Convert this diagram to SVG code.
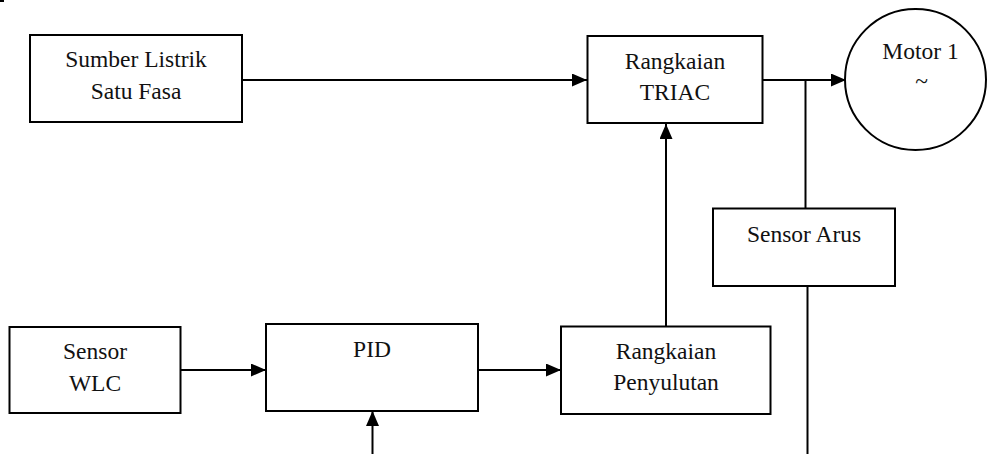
<svg xmlns="http://www.w3.org/2000/svg" width="988" height="454" viewBox="0 0 988 454">
  <defs>
    <marker id="arrow" markerWidth="15" markerHeight="13" refX="15" refY="6.5" orient="auto" markerUnits="userSpaceOnUse">
      <path d="M0,0 L15,6.5 L0,13 Z" fill="#000"/>
    </marker>
    <style>
      .box { fill: #fff; stroke: #000; stroke-width: 2; }
      .lbl { font-family: "Liberation Serif", "Times New Roman", serif; font-size: 23.5px; fill: #111; text-anchor: middle; }
      .wire { fill: none; stroke: #000; stroke-width: 2; }
      .arr { fill: none; stroke: #000; stroke-width: 2; marker-end: url(#arrow); }
    </style>
  </defs>
  <rect width="988" height="454" fill="#fff"/>
  <rect x="0" y="0" width="4" height="2" fill="#000"/>

  <g id="connectors">
    <line class="arr" x1="242" y1="80" x2="587" y2="80"/>
    <line class="arr" x1="762" y1="80" x2="846" y2="80"/>
    <line class="wire" x1="805.5" y1="80" x2="805.5" y2="208"/>
    <line class="wire" x1="807.5" y1="286" x2="807.5" y2="454"/>
    <line class="arr" x1="666" y1="326" x2="666" y2="124"/>
    <line class="arr" x1="181" y1="370" x2="266" y2="370"/>
    <line class="arr" x1="478" y1="370" x2="561" y2="370"/>
    <line class="arr" x1="372.5" y1="454" x2="372.5" y2="411"/>
  </g>

  <g id="sumber">
    <rect class="box" x="30" y="35" width="212" height="87"/>
    <text class="lbl" x="136" y="67">Sumber Listrik</text>
    <text class="lbl" x="136" y="99">Satu Fasa</text>
  </g>

  <g id="triac">
    <rect class="box" x="587.5" y="36" width="175" height="87"/>
    <text class="lbl" x="675" y="69">Rangkaian</text>
    <text class="lbl" x="675" y="100">TRIAC</text>
  </g>

  <g id="motor">
    <circle class="box" cx="915.5" cy="79.5" r="70.5"/>
    <text class="lbl" x="920.5" y="59">Motor 1</text>
    <text class="lbl" x="921.5" y="89">~</text>
  </g>

  <g id="sensor-arus">
    <rect class="box" x="713" y="208.5" width="182" height="77.5"/>
    <text class="lbl" x="804" y="242">Sensor Arus</text>
  </g>

  <g id="sensor-wlc">
    <rect class="box" x="9.5" y="327" width="171" height="86"/>
    <text class="lbl" x="95" y="359">Sensor</text>
    <text class="lbl" x="95" y="391">WLC</text>
  </g>

  <g id="pid">
    <rect class="box" x="266" y="324" width="212" height="87"/>
    <text class="lbl" x="372" y="357">PID</text>
  </g>

  <g id="penyulutan">
    <rect class="box" x="561" y="326.5" width="209.5" height="87.5"/>
    <text class="lbl" x="666" y="359">Rangkaian</text>
    <text class="lbl" x="666" y="390">Penyulutan</text>
  </g>
</svg>
